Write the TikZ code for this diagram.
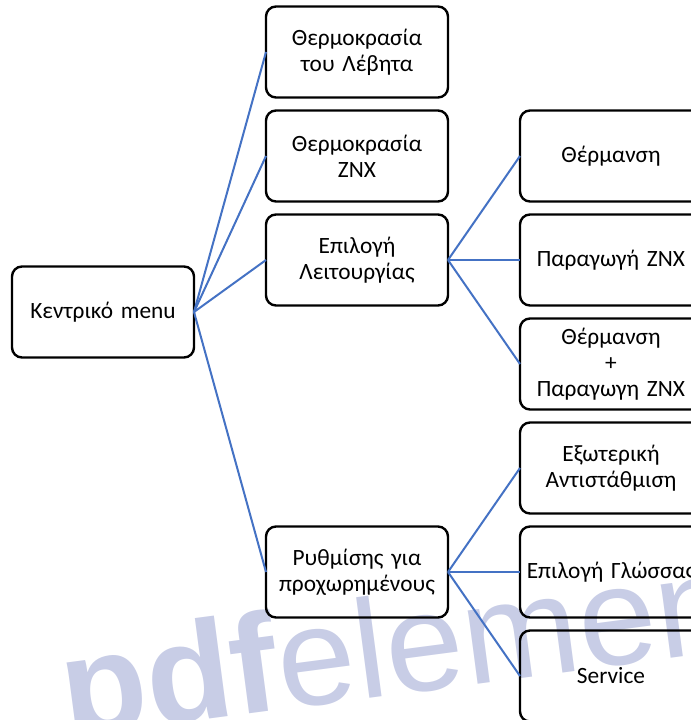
\documentclass[tikz,border=0pt]{standalone}
\usepackage{fontspec}
\setmainfont{Carlito}
\newfontfamily\wmfont{Liberation Sans}
\usetikzlibrary{positioning}
\definecolor{linkblue}{RGB}{68,114,196}
\definecolor{wmark}{RGB}{200,205,230}

\begin{document}
\begin{tikzpicture}[
	box/.style={draw, rectangle, rounded corners=7.5pt, line width=1.8pt, outer sep=0pt, minimum width=136.5pt, minimum height=68.25pt, text width=136.5pt, inner xsep=0pt, align=center, font=\fontsize{17.5}{19.5}\selectfont},
	link/.style={draw=linkblue, line width=1.5pt},
	node distance=9.75pt and 54pt]

	% Moldura
	\useasboundingbox (-77.25pt, 234pt) rectangle (441pt, -306pt);
	\clip (-77.25pt, 234pt) rectangle (441pt, -306pt);

	% Marca d'agua
	\node (wm) [anchor=base west, rotate=7.5, inner sep=0pt, text=wmark, font=\wmfont\fontsize{105}{105}\selectfont] at (-27pt, -319.5pt) {\textbf{pdf}element};

	% Menu principal
	\node (menu) [box] {Κεντρικό menu};

	% Segunda coluna
	\node (leitourgia) [box, right=of menu, yshift=39pt] {Επιλογή\\Λειτουργίας};
	\node (znx) [box, above=of leitourgia] {Θερμοκρασία\\ZNX};
	\node (lebhta) [box, above=of znx] {Θερμοκρασία\\του Λέβητα};

	% Terceira coluna
	\node (paragogi) [box, right=of leitourgia] {Παραγωγή ZNX};
	\node (thermansi) [box, above=of paragogi] {Θέρμανση};
	\node (both) [box, below=of paragogi] {Θέρμανση\\+\\Παραγωγη ZNX};
	\node (antistathmisi) [box, below=of both] {Εξωτερική\\Αντιστάθμιση};
	\node (glossa) [box, below=of antistathmisi] {Επιλογή Γλώσσας};
	\node (service) [box, below=of glossa] {Service};
	\node (advanced) [box, left=of glossa] {Ρυθμίσης για\\προχωρημένους};

	% Ligacoes
	\draw[link] (menu.east) -- (lebhta.west);
	\draw[link] (menu.east) -- (znx.west);
	\draw[link] (menu.east) -- (leitourgia.west);
	\draw[link] (menu.east) -- (advanced.west);

	\draw[link] (leitourgia.east) -- (thermansi.west);
	\draw[link] (leitourgia.east) -- (paragogi.west);
	\draw[link] (leitourgia.east) -- (both.west);

	\draw[link] (advanced.east) -- (antistathmisi.west);
	\draw[link] (advanced.east) -- (glossa.west);
	\draw[link] (advanced.east) -- (service.west);
\end{tikzpicture}
\end{document}
